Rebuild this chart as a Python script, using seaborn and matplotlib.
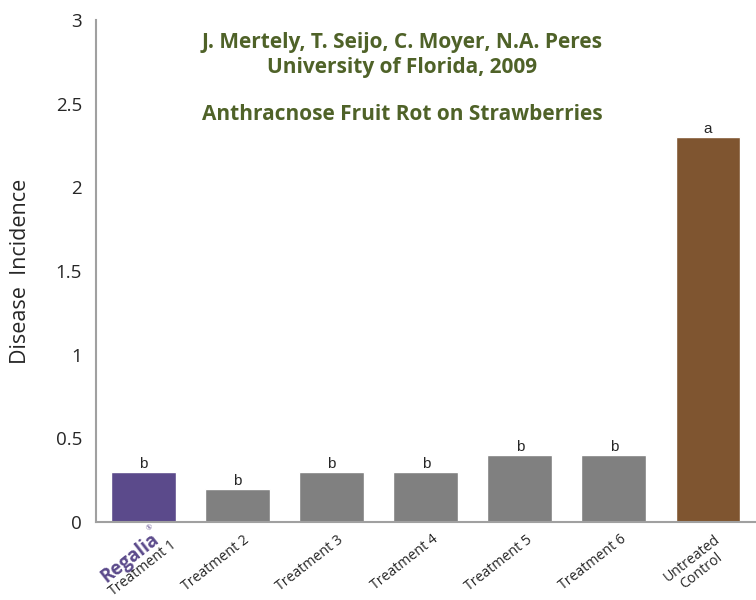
import matplotlib
matplotlib.use("Agg")
import matplotlib.pyplot as plt
import seaborn as sns
import pandas as pd

# data
treatments = ['Treatment 1', 'Treatment 2', 'Treatment 3', 'Treatment 4',
              'Treatment 5', 'Treatment 6', 'Untreated\nControl']
incidence = [0.3, 0.2, 0.3, 0.3, 0.4, 0.4, 2.3]
letters = ['b', 'b', 'b', 'b', 'b', 'b', 'a']
bar_colors = ['#5B4A8B', '#808080', '#808080', '#808080', '#808080', '#808080', '#7F5530']

df = pd.DataFrame({'treatment': treatments, 'incidence': incidence})

sns.set_style('white')
plt.rcParams['font.family'] = ['Open Sans', 'DejaVu Sans']

fig = plt.figure(figsize=(7.56, 6), dpi=100)
ax = fig.add_axes([0.127, 0.13, 0.873, 0.837])

sns.barplot(data=df, x='treatment', y='incidence', hue='treatment',
            palette=bar_colors, width=0.69, legend=False, ax=ax, saturation=1)

ax.set_ylim(0, 3)
ax.set_xlim(-0.505, 6.51)
ax.set_yticks([0, 0.5, 1, 1.5, 2, 2.5, 3])
ax.set_yticklabels(['0', '0.5', '1', '1.5', '2', '2.5', '3'], fontsize=13.5)
ax.set_ylabel('Disease  Incidence', fontsize=15.5, labelpad=18)
ax.set_xlabel('')

for s in ['top', 'right']:
    ax.spines[s].set_visible(False)
for s in ['left', 'bottom']:
    ax.spines[s].set_color('#A0A0A0')
    ax.spines[s].set_linewidth(1.5)

ax.set_xticks([i - 0.5 for i in range(8)])
ax.set_xticklabels([])
ax.tick_params(axis='x', length=6, width=1.5, color='#A0A0A0', direction='out')
ax.tick_params(axis='y', length=6, width=1.5, color='#A0A0A0', direction='out', pad=4)

# rotated category labels
for i, lab in enumerate(treatments):
    dx, dy = (0.28, -0.09) if i == 0 else (0.06, -0.06)
    ax.text(i + dx, dy, lab, rotation=38, rotation_mode='anchor',
            ha='right', va='top', fontsize=10.2, multialignment='center',
            linespacing=1.1)
ax.text(0.08, -0.045, 'Regalia', rotation=38, rotation_mode='anchor',
        ha='right', va='top', fontsize=13.5, fontweight='bold', color='#5B4A8B')
ax.text(0.07, -0.04, '®', rotation=38, fontsize=5, color='#5B4A8B',
        ha='center', va='center')

# significance letters
for i, (v, l) in enumerate(zip(incidence, letters)):
    ax.text(i, v + 0.005, l, ha='center', va='bottom', fontsize=11,
            family='Liberation Sans')

green = '#4F6228'
ax.text(2.75, 2.93, 'J. Mertely, T. Seijo, C. Moyer, N.A. Peres\nUniversity of Florida, 2009',
        ha='center', va='top', fontsize=15, fontweight='bold', color=green,
        linespacing=1.3)
ax.text(2.75, 2.37, 'Anthracnose Fruit Rot on Strawberries', ha='center', va='bottom',
        fontsize=15, fontweight='bold', color=green)

fig.savefig('out.png', dpi=100)
